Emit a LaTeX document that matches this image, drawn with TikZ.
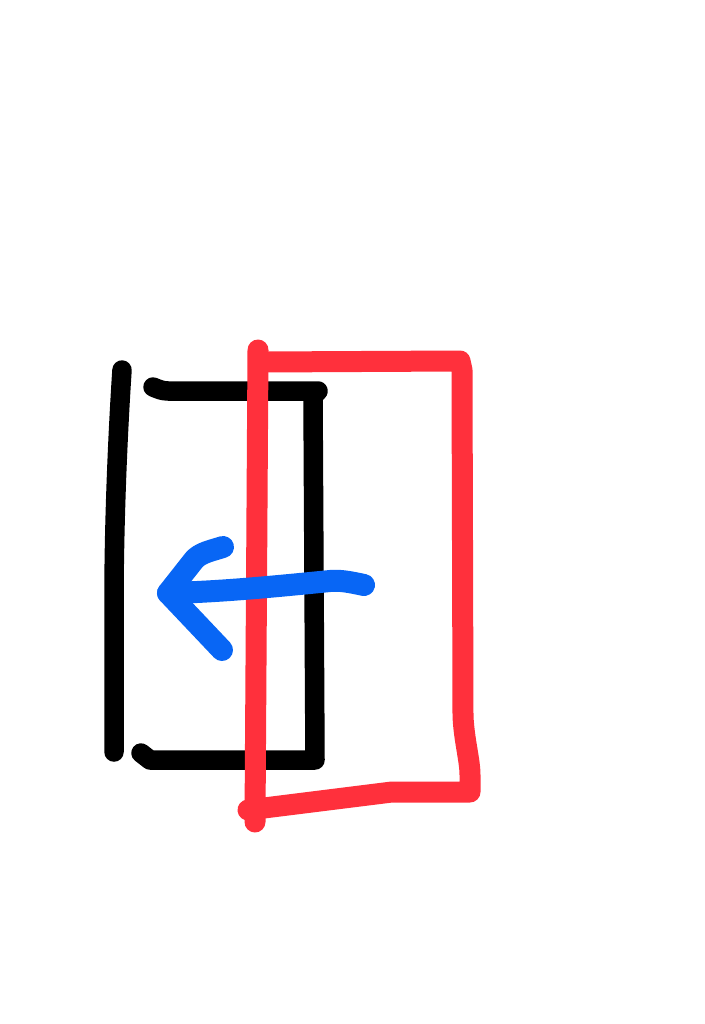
\documentclass[tikz,border=0pt]{standalone}
\definecolor{penred}{RGB}{255,48,60}
\definecolor{penblue}{RGB}{8,102,245}
\tikzset{
  pen/.style={line width=19pt, line cap=round, line join=round},
  blackpen/.style={pen, line width=19.5pt, draw=black},
  redpen/.style={pen, line width=21pt, draw=penred},
  bluepen/.style={pen, line width=22pt, draw=penblue}
}
\begin{document}
\begin{tikzpicture}[x=1pt,y=-1pt]
\useasboundingbox[fill=white] (0,0) rectangle (704,1024);
% black frame
\draw[blackpen] (122,370) .. controls (118,430) and (114,520) .. (114,600) -- (114,752);
\draw[blackpen] (153,387) .. controls (158,389) and (162,391) .. (168,391) -- (318,391) -- (313,396)
  -- (315,760) -- (150,760) -- (141,753);
% red door
\draw[redpen] (262,362) -- (460,361) -- (462,370) -- (463,716) .. controls (464,740) and (470,760) .. (470,775)
  -- (470,792) -- (392,792) -- (248,810);
\draw[redpen] (258,350) -- (255,822);
% blue arrow
\draw[bluepen] (364,585) .. controls (350,582) and (340,580) .. (330,581) .. controls (280,586) and (220,592) .. (168,593);
\draw[bluepen] (223,547) .. controls (210,551) and (200,553) .. (194,560) -- (168,593) -- (222,650);
\end{tikzpicture}
\end{document}
